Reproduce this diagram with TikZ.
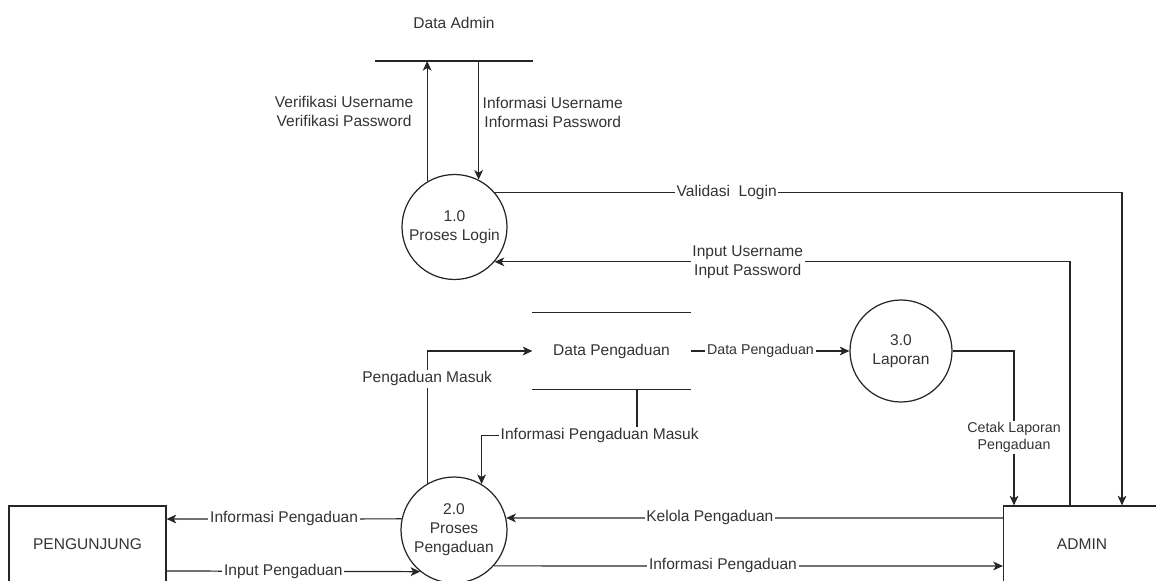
\documentclass[tikz,border=0pt]{standalone}
\usepackage{fontspec}
\setmainfont{Liberation Sans}
\usetikzlibrary{arrows.meta}

\begin{document}
\begin{tikzpicture}[x=0.02cm, y=-0.02cm, line width=0.7pt, draw=black!85, text=black!80,
    font=\fontsize{8.85}{10.8}\selectfont,
    flow/.style={-{Stealth[length=5.5pt, width=5pt, inset=1.5pt]}},
    process/.style={circle, draw, align=center, inner sep=0pt},
    entity/.style={rectangle, draw, minimum width=3.14cm, minimum height=1.52cm},
    flowlabel/.style={fill=white, inner sep=1pt, align=center},
    smalllabel/.style={flowlabel, font=\fontsize{8.1}{9.6}\selectfont}]
    \clip (0,0) rectangle (1156,581);

    % external entities
    \node[entity] (pengunjung) at (87.5,544) {PENGUNJUNG};
    \node[entity] (admin) at (1082,544) {ADMIN};

    % processes
    \node[process, minimum size=2.1cm] (p1) at (454.5,227) {1.0\\Proses Login};
    \node[process, minimum size=2.12cm] (p2) at (454,530) {2.0\\Proses\\Pengaduan};
    \node[process, minimum size=2.04cm] (p3) at (901,351) {3.0\\Laporan};

    % data stores
    \node (dadmin) at (454,23) {Data Admin};
    \coordinate (dadminL) at (375,61);
    \coordinate (dadminR) at (533,61);
    \draw (dadminL) -- (dadminR);
    \node[minimum width=3.14cm, minimum height=1.52cm] (dpstore) at (611.5,351) {Data Pengaduan};
    \draw (dpstore.north west) -- (dpstore.north east);
    \draw (dpstore.south west) -- (dpstore.south east);

    % login flows
    \draw[flow] (p1.121.6) -- (p1.121.6 |- dadminL)
        node[pos=0.58, left, xshift=-0.15cm, align=center]{Verifikasi Username\\Verifikasi Password};
    \draw[flow] (p1.63.4 |- dadminL) -- (p1.63.4)
        node[pos=0.43, right, inner sep=2pt, align=center]{Informasi Username\\Informasi Password};
    \draw[flow] (p1.41.8) -| ([xshift=0.8cm]admin.north)
        node[flowlabel, pos=0.185]{Validasi\ \ Login};
    \draw[flow] ([xshift=-0.24cm]admin.north) |- (p1.-41.8)
        node[flowlabel, pos=0.78]{Input Username\\Input Password};

    % pengaduan flows
    \draw[flow] (p2.120.6) |- (dpstore.west)
        node[flowlabel, pos=0.395]{Pengaduan Masuk};
    \draw[flow] ([xshift=0.51cm]dpstore.south) -- ++(0,46) -| (p2.59.4)
        node[flowlabel, pos=0.12]{Informasi Pengaduan Masuk};
    \draw[flow] (dpstore.east) -- (p3.west)
        node[smalllabel, pos=0.44]{Data Pengaduan};
    \draw[flow] (p3.east) -| ([xshift=-1.36cm]admin.north)
        node[smalllabel, pos=0.78]{Cetak Laporan\\Pengaduan};
    \draw[flow] ([yshift=0.52cm]admin.west) -- (p2.13.1)
        node[flowlabel, pos=0.59]{Kelola Pengaduan};
    \draw[flow] (p2.-42.8) -- ([yshift=-0.44cm]admin.west)
        node[flowlabel, pos=0.45]{Informasi Pengaduan};
    \draw[flow] (p2.168) -- ([yshift=0.5cm]pengunjung.east)
        node[flowlabel, pos=0.5]{Informasi Pengaduan};
    \draw[flow] ([yshift=-0.54cm]pengunjung.east) -- (p2.-129.3)
        node[flowlabel, pos=0.46]{Input Pengaduan};
\end{tikzpicture}
\end{document}
